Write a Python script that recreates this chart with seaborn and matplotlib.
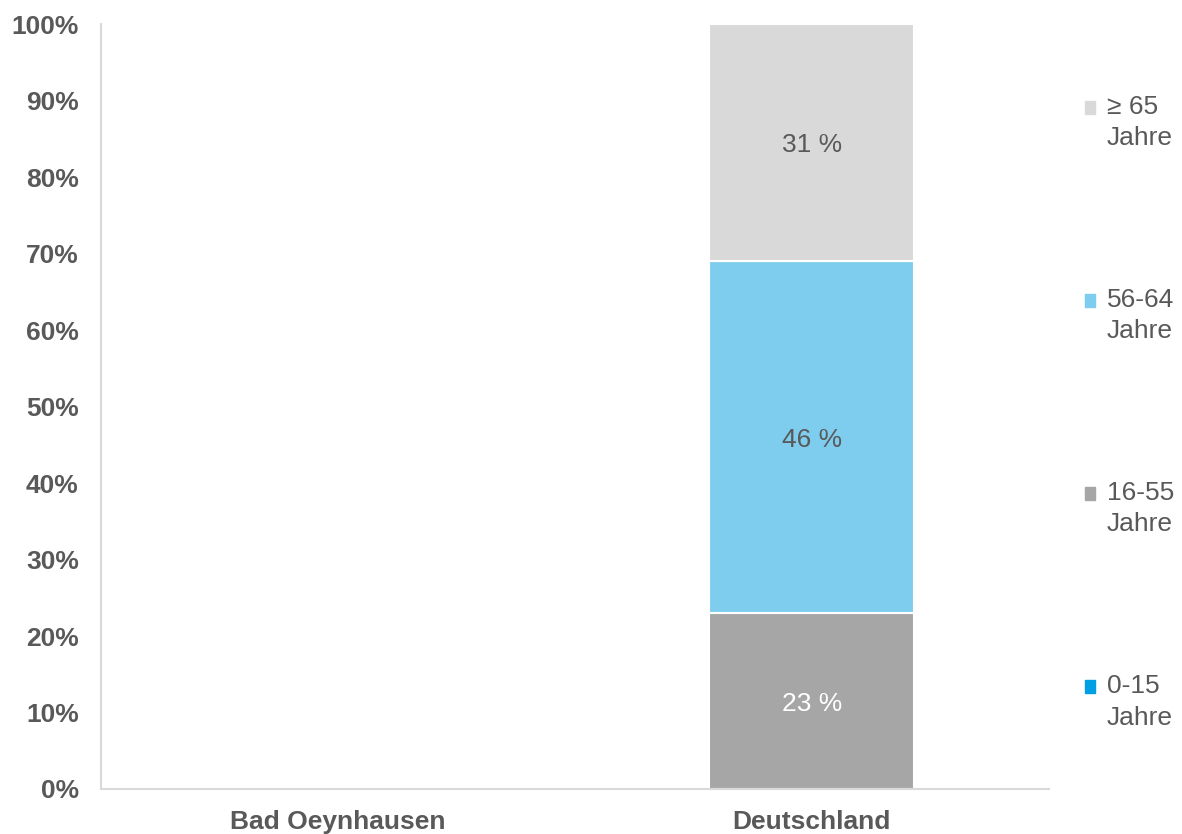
import pandas as pd
import seaborn as sns
import matplotlib.pyplot as plt
from matplotlib.patches import Patch
from matplotlib.ticker import PercentFormatter

# Data
regions = ["Bad Oeynhausen", "Deutschland"]
age_groups = ["0-15\nJahre", "16-55\nJahre", "56-64\nJahre", "\u2265 65\nJahre"]
share_0_15 = [0, 0]
share_16_55 = [0, 23]
share_56_64 = [0, 46]
share_65 = [0, 31]

colors = ["#009FE3", "#A6A6A6", "#7FCDEE", "#D9D9D9"]
label_colors = ["white", "white", "#595959", "#595959"]
txt = "#595959"
fs = 19

sns.set_style("white")
plt.rcParams["font.family"] = ["Liberation Sans", "DejaVu Sans"]

df = pd.DataFrame({"region": regions, "g0": share_0_15, "g1": share_16_55,
                   "g2": share_56_64, "g3": share_65})

fig = plt.figure(figsize=(11.82, 8.34), dpi=100)
ax = fig.add_axes([0.0854, 0.054, 0.802, 0.917])

bottom = pd.Series([0.0] * len(df))
for i, col in enumerate(["g0", "g1", "g2", "g3"]):
    sns.barplot(data=df, x="region", y=col, bottom=bottom.values, color=colors[i],
                width=0.4325, edgecolor="white", linewidth=1.5, ax=ax, saturation=1)
    for j, v in enumerate(df[col]):
        if v > 0:
            ax.text(j, bottom[j] + v / 2, f"{v} %", ha="center", va="center_baseline",
                    fontsize=fs, color=label_colors[i])
    bottom = bottom + df[col]

ax.set_ylim(0, 100)
ax.set_xlim(-0.5, 1.5)
ax.set_yticks(range(0, 101, 10))
ax.yaxis.set_major_formatter(PercentFormatter(decimals=0))
ax.set_xlabel("")
ax.set_ylabel("")
ax.tick_params(axis="y", length=0, labelsize=fs, colors=txt, pad=16)
ax.tick_params(axis="x", length=0, labelsize=fs, colors=txt, pad=15)
for lab in ax.get_xticklabels() + ax.get_yticklabels():
    lab.set_fontweight("bold")
for s in ["top", "right"]:
    ax.spines[s].set_visible(False)
for s in ["left", "bottom"]:
    ax.spines[s].set_color("#D9D9D9")
    ax.spines[s].set_linewidth(1.5)

handles = [Patch(color=colors[i], label=age_groups[i]) for i in range(4)][::-1]
leg = fig.legend(handles=handles, loc="upper left", bbox_to_anchor=(0.898, 0.915),
                 frameon=False, fontsize=fs, handlelength=0.38, handleheight=0.38,
                 handletextpad=0.45, labelspacing=5.23, labelcolor=txt)
for t in leg.get_texts():
    t.set_linespacing(1.38)
# square sits next to the first line of each label
for h in leg.legend_handles:
    h.set_y(h.get_y() + 11)

fig.savefig("out.png", dpi=100)
